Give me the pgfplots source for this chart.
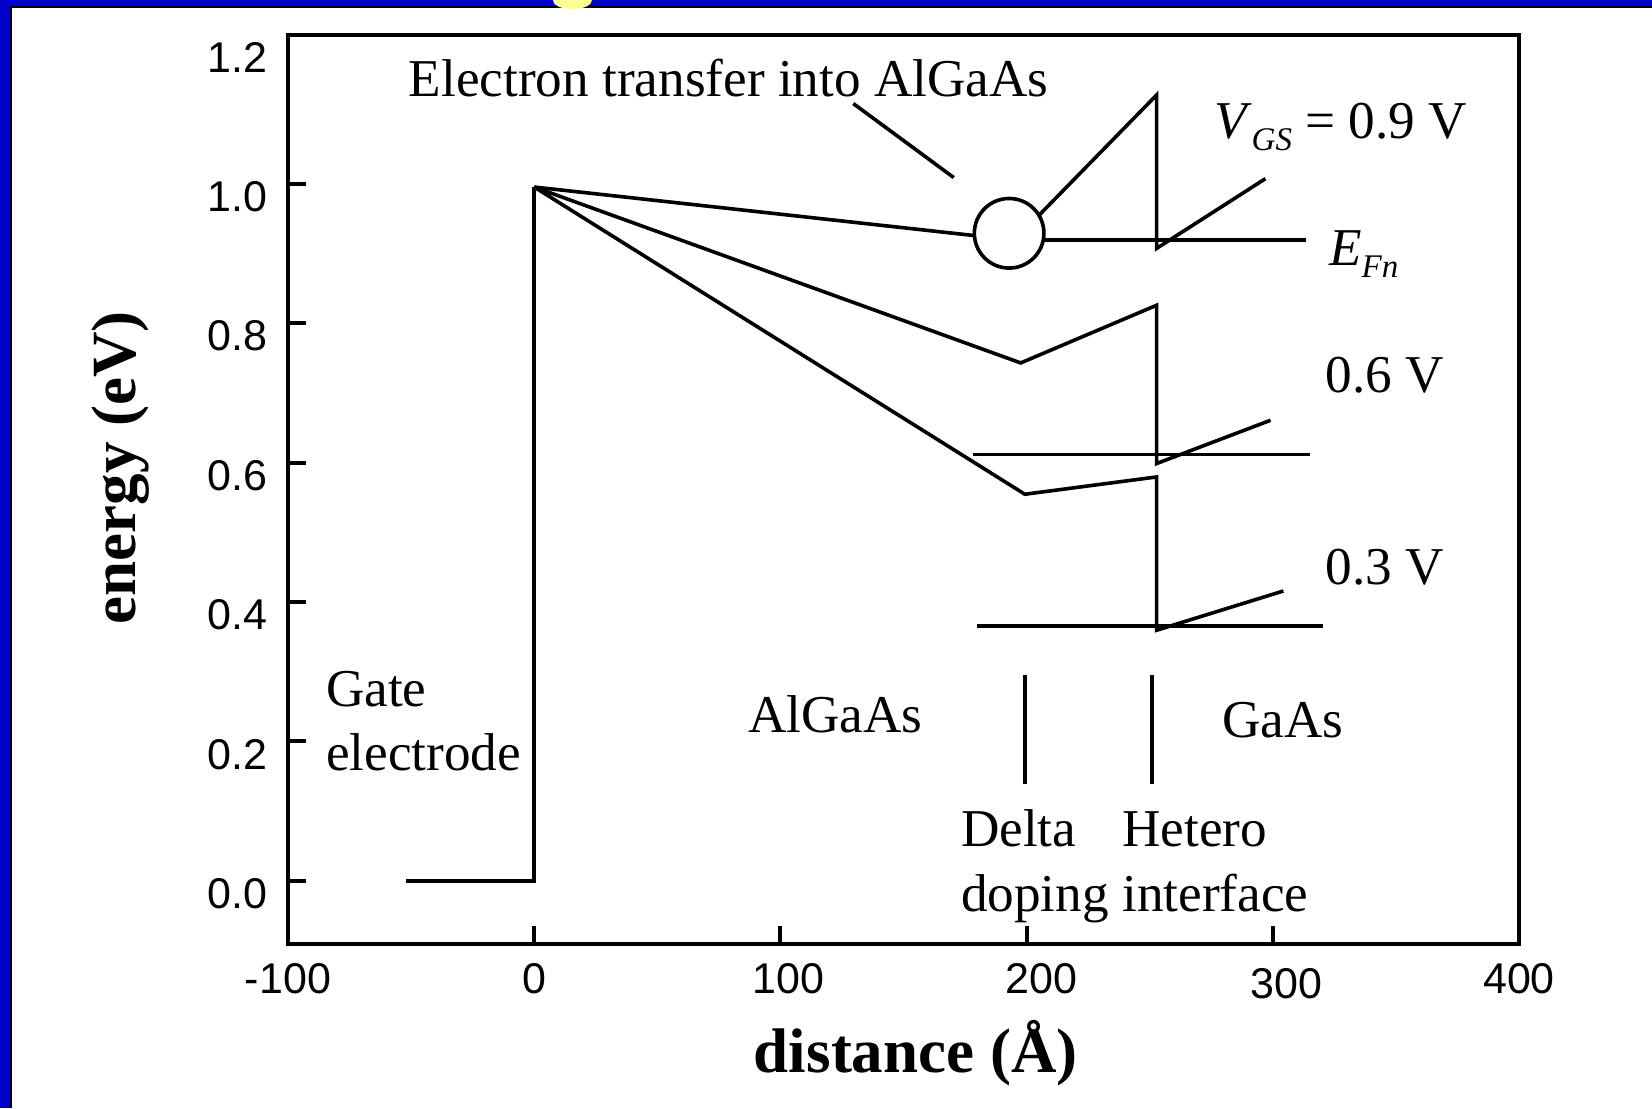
\documentclass[border=0pt]{standalone}
\usepackage{fontspec}
\setmainfont{Liberation Serif}
\setsansfont{Liberation Sans}
\usepackage{pgfplots}
\pgfplotsset{compat=1.18}
\definecolor{slideblue}{RGB}{0,0,204}
\definecolor{slideyellow}{RGB}{255,255,150}

\newcommand{\txt}{\fontsize{26.6}{32}\selectfont}
\newcommand{\sub}[1]{\raisebox{-6.2pt}{\fontsize{16.5}{18}\selectfont\itshape #1}}

\begin{document}
\begin{tikzpicture}
% slide frame
\fill[white] (0,0) rectangle (826pt,-554pt);
\fill[slideblue] (0,0) rectangle (826pt,-3pt);
\fill[slideblue] (0,0) rectangle (5pt,-554pt);
\fill[black] (5pt,-3pt) rectangle (826pt,-4pt);
\fill[black] (5pt,-3pt) rectangle (6pt,-554pt);
\begin{scope}
  \clip (0,0) rectangle (826pt,-4.6pt);
  \fill[slideyellow] (286.2pt,0) ellipse (9.8pt and 4.6pt);
\end{scope}

\begin{axis}[
  at={(144pt,-17.5pt)}, anchor=north west,
  x=1.231pt, y=348.7pt,
  xmin=-100, xmax=400, ymin=-0.091, ymax=1.213,
  axis line style={line width=2pt},
  xtick={-100,0,100,200,300,400},
  xticklabels={-100,0,\hspace{8.4pt}100,\hspace{14.7pt}200,
    \hspace{13.7pt}\raisebox{-2.6pt}[\height][\depth]{300},400},
  ytick={0,0.2,0.4,0.6,0.8,1.0},
  extra y ticks={1.2},
  extra y tick style={major tick length=0pt},
  tick align=inside, tick pos=left,
  major tick length=9pt,
  tick style={line width=2pt, black},
  /pgf/number format/assume math mode=true,
  tick label style={font=\fontsize{21.5}{25}\selectfont\sffamily},
  yticklabel style={/pgf/number format/fixed, /pgf/number format/fixed zerofill,
    /pgf/number format/precision=1, xshift=-7pt, yshift=-6.5pt},
  xticklabel style={yshift=-6pt},
  xlabel={distance (Å)}, ylabel={energy (eV)},
  label style={font=\fontsize{31.5}{38}\selectfont\bfseries},
  xlabel style={at={(axis description cs:0.51,-0.141)}, anchor=base},
  ylabel style={at={(axis description cs:-0.1235,0.524)}, anchor=base},
  clip=false,
]
% gate electrode and barrier edge
\addplot[black, line width=1.8pt] coordinates {(-52,0) (0,0) (0,0.995)};
% conduction band, V_GS = 0.9 V
\addplot[black, line width=1.8pt] coordinates {(0,0.995) (195.2,0.919) (252.8,1.127) (252.8,0.907) (297.0,1.007)};
% conduction band, 0.6 V
\addplot[black, line width=1.8pt] coordinates {(0,0.995) (197.6,0.7428) (252.8,0.8255) (252.8,0.5985) (299.1,0.6606)};
% conduction band, 0.3 V
\addplot[black, line width=1.8pt] coordinates {(0,0.995) (199.3,0.5545) (252.8,0.5793) (252.8,0.3595) (304.3,0.4158)};
% quasi-Fermi levels
\addplot[black, line width=1.8pt] coordinates {(192.9,0.9187) (313.4,0.9187)};
\addplot[black, line width=1.8pt] coordinates {(178.1,0.6114) (315.1,0.6114)};
\addplot[black, line width=1.8pt] coordinates {(179.7,0.3652) (320.5,0.3652)};
% pointer to the transfer region
\addplot[black, line width=1.8pt] coordinates {(129.6,1.1147) (170.4,1.0086)};
% delta doping and hetero interface markers
\addplot[black, line width=1.8pt] coordinates {(199.3,0.295) (199.3,0.1387)};
\addplot[black, line width=1.8pt] coordinates {(250.9,0.295) (250.9,0.1387)};
% electron transfer region
\addplot[only marks, mark=*, mark size=17.4pt,
  mark options={fill=white, draw=black, line width=1.8pt}] coordinates {(192.9,0.9287)};

\node[anchor=base, font=\txt] at (axis cs:79.0,1.1252) {Electron transfer into AlGaAs};
\node[anchor=base west, font=\txt, inner sep=0pt] at (axis cs:276.0,1.065) {\textit{V}\sub{GS} = 0.9 V};
\node[anchor=base west, font=\txt, inner sep=0pt] at (axis cs:322.7,0.883) {\textit{E}\sub{Fn}};
\node[anchor=base west, font=\txt, inner sep=0pt] at (axis cs:321.2,0.701) {0.6 V};
\node[anchor=base west, font=\txt, inner sep=0pt] at (axis cs:321.2,0.425) {0.3 V};
\node[anchor=base west, font=\txt, inner sep=0pt] at (axis cs:-84.7,0.2495) {Gate};
\node[anchor=base west, font=\txt, inner sep=0pt] at (axis cs:-84.7,0.1577) {electrode};
\node[anchor=base, font=\txt, inner sep=0pt] at (axis cs:122.3,0.2122) {AlGaAs};
\node[anchor=base, font=\txt, inner sep=0pt] at (axis cs:304.1,0.2056) {GaAs};
\node[anchor=base west, font=\txt, inner sep=0pt] at (axis cs:173.2,0.0488) {Delta};
\node[anchor=base west, font=\txt, inner sep=0pt] at (axis cs:173.2,-0.0434) {doping};
\node[anchor=base west, font=\txt, inner sep=0pt] at (axis cs:238.7,0.0488) {Hetero};
\node[anchor=base west, font=\txt, inner sep=0pt] at (axis cs:238.7,-0.0434) {interface};
\end{axis}
\pgfresetboundingbox
\path (0,0) rectangle (826pt,-554pt);
\end{tikzpicture}
\end{document}
